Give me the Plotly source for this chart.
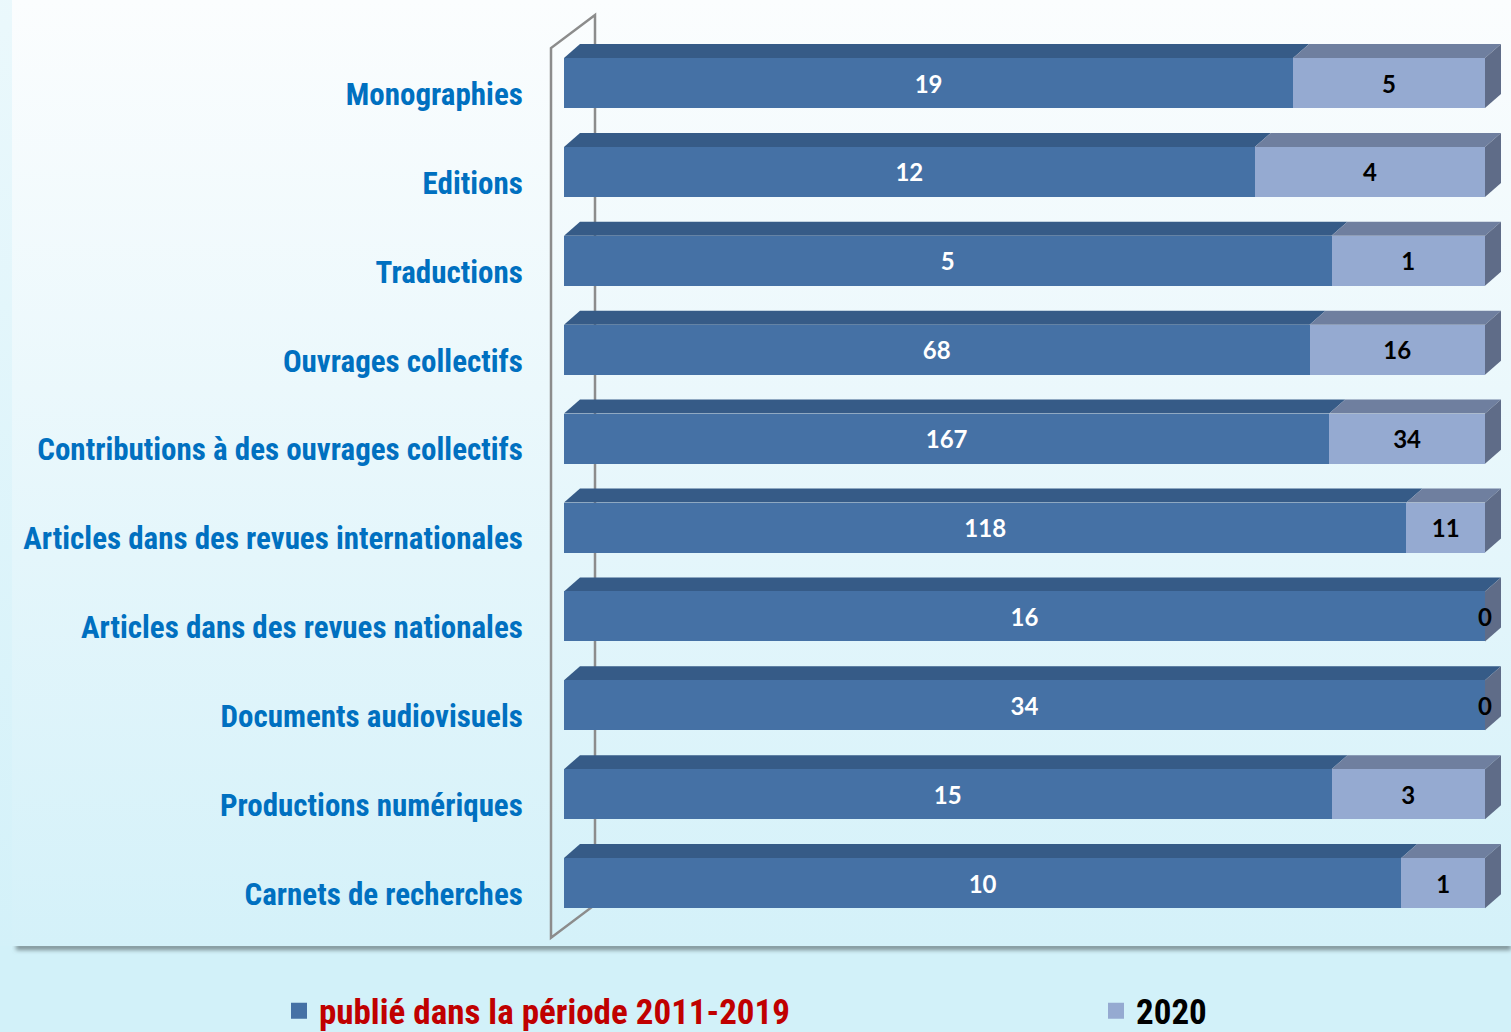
import base64
import plotly.graph_objects as go

categories = [
    "Monographies",
    "Editions",
    "Traductions",
    "Ouvrages collectifs",
    "Contributions à des ouvrages collectifs",
    "Articles dans des revues internationales",
    "Articles dans des revues nationales",
    "Documents audiovisuels",
    "Productions numériques",
    "Carnets de recherches",
]
published_2011_2019 = [19, 12, 5, 68, 167, 118, 16, 34, 15, 10]
published_2020 = [5, 4, 1, 16, 34, 11, 0, 0, 3, 1]
series_names = ["publié dans la période 2011-2019", "2020"]

W, H = 1511, 1032
ML, MR, MT, MB = 540, 0, 0, 87
PW, PH = W - ML - MR, H - MT - MB

DARK, DARK_TOP = "#4571A5", "#365B87"
LIGHT, LIGHT_TOP = "#95AAD1", "#6F7F9F"
SIDE = "#5F6C88"
LABEL_BLUE = "#0070C0"
NARROW = "Liberation Sans Narrow, Arial Narrow, Roboto Condensed, Liberation Sans, sans-serif"
NUMFONT = "Lato, Open Sans, sans-serif"

# axis scales (pixel geometry of the 3D box)
x_range = [-0.02606, 1.02823]
y_range = [9.696, -0.934]
px_per_x = PW / (x_range[1] - x_range[0])
px_per_y = PH / (y_range[0] - y_range[1])
bar_w = 0.563
dx, dy = 16 / px_per_x, 14 / px_per_y
label_dy = 3.5 / px_per_y  # nudge value labels down to optical centre

n = len(categories)
idx = list(range(n))
tot = [a + b for a, b in zip(published_2011_2019, published_2020)]
p1 = [a / t for a, t in zip(published_2011_2019, tot)]
p2 = [b / t for b, t in zip(published_2020, tot)]

fig = go.Figure()
fig.add_trace(go.Bar(y=idx, x=p1, orientation="h", width=bar_w, marker=dict(color=DARK, line=dict(width=0)),
                     name=series_names[0], showlegend=False, hoverinfo="skip"))
fig.add_trace(go.Bar(y=idx, x=p2, orientation="h", width=bar_w, marker=dict(color=LIGHT, line=dict(width=0)),
                     name=series_names[1], showlegend=False, hoverinfo="skip"))

# data labels
label_y = [i + label_dy for i in idx]
fig.add_trace(go.Scatter(y=label_y, x=[v / 2 for v in p1], mode="text", text=[str(v) for v in published_2011_2019],
                         textfont=dict(family=NUMFONT, size=24, color="white", weight="bold"),
                         showlegend=False, hoverinfo="skip"))
fig.add_trace(go.Scatter(y=label_y, x=[a + b / 2 for a, b in zip(p1, p2)], mode="text",
                         text=[str(v) for v in published_2020],
                         textfont=dict(family=NUMFONT, size=24, color="black", weight="bold"),
                         showlegend=False, hoverinfo="skip"))

# legend entries (two separate legends to reproduce their wide spacing)
fig.add_trace(go.Scatter(x=[None], y=[None], mode="markers", marker=dict(symbol="square", size=20, color=DARK),
                         name=f"<span style='color:#C00000'>{series_names[0]}</span>", legend="legend"))
fig.add_trace(go.Scatter(x=[None], y=[None], mode="markers", marker=dict(symbol="square", size=20, color=LIGHT),
                         name=series_names[1], legend="legend2"))

shapes = []
# back wall
wx0 = -13 / px_per_x
wdx, wdy = 44 / px_per_x, 33 / px_per_y
wy_top, wy_bot = -0.394, 9.614
shapes.append(dict(type="path", xref="x", yref="y", layer="below",
                   path=f"M{wx0},{wy_bot} L{wx0},{wy_top} L{wx0 + wdx},{wy_top - wdy} "
                        f"L{wx0 + wdx},{wy_bot - wdy} Z",
                   line=dict(color="#8C8C8C", width=2.5), fillcolor="rgba(0,0,0,0)"))

def face(x0, x1, top, color):
    return dict(type="path", xref="x", yref="y", layer="below", line=dict(width=0), fillcolor=color,
                path=f"M{x0},{top} L{x1},{top} L{x1 + dx},{top - dy} L{x0 + dx},{top - dy} Z")

for i in idx:
    top = i - bar_w / 2
    bot = i + bar_w / 2
    shapes.append(face(0, p1[i], top, DARK_TOP))
    if p2[i] > 0:
        shapes.append(face(p1[i], 1, top, LIGHT_TOP))
    shapes.append(dict(type="path", xref="x", yref="y", layer="below", line=dict(width=0), fillcolor=SIDE,
                       path=f"M1,{top} L{1 + dx},{top - dy} L{1 + dx},{bot - dy} L1,{bot} Z"))

svg = f"""<svg xmlns='http://www.w3.org/2000/svg' width='{W}' height='{H}'>
<defs>
<linearGradient id='g' x1='0' y1='0' x2='0' y2='1'>
<stop offset='0' stop-color='#FBFDFE'/><stop offset='1' stop-color='#D4F1F9'/></linearGradient>
<filter id='b' x='-5%' y='-200%' width='110%' height='500%'><feGaussianBlur stdDeviation='2.2'/></filter>
</defs>
<rect width='{W}' height='{H}' fill='#D2F1F9'/>
<rect x='16' y='944' width='{W - 16}' height='6' fill='#7A8E93' filter='url(#b)'/>
<rect x='12' y='0' width='{W - 12}' height='946' fill='url(#g)'/>
<rect x='0' y='0' width='12' height='946' fill='url(#g)' opacity='0.6'/>
</svg>"""
src = "data:image/svg+xml;base64," + base64.b64encode(svg.encode("utf-8")).decode("ascii")

legend_common = dict(orientation="h", xref="container", yref="container", y=1 - 1011 / H,
                     xanchor="left", yanchor="middle",
                     font=dict(family=NARROW, size=35, color="black", weight="bold"),
                     bgcolor="rgba(0,0,0,0)", itemclick=False, itemdoubleclick=False)

fig.update_layout(
    width=W, height=H,
    margin=dict(l=ML, r=MR, t=MT, b=MB, pad=0),
    barmode="stack",
    paper_bgcolor="#D2F1F9",
    plot_bgcolor="rgba(0,0,0,0)",
    shapes=shapes,
    images=[dict(source=src, xref="paper", yref="paper", x=-ML / PW, y=1 + MT / PH,
                 sizex=W / PW, sizey=H / PH, sizing="stretch", xanchor="left", yanchor="top", layer="below")],
    xaxis=dict(range=x_range, visible=False, fixedrange=True),
    yaxis=dict(range=y_range, tickvals=idx, ticktext=categories, showgrid=False, zeroline=False,
               showline=False, ticks="outside", ticklen=10, tickcolor="rgba(0,0,0,0)",
               ticklabelshift=-11,
               tickfont=dict(family=NARROW, size=31, color=LABEL_BLUE, weight="bold"), fixedrange=True),
    legend=dict(x=279 / W, **legend_common),
    legend2=dict(x=1096 / W, **legend_common),
    showlegend=True,
)

fig.write_html("out.html", config={"displayModeBar": False},
               post_script="document.body.style.margin='0';document.body.style.overflow='hidden';")
